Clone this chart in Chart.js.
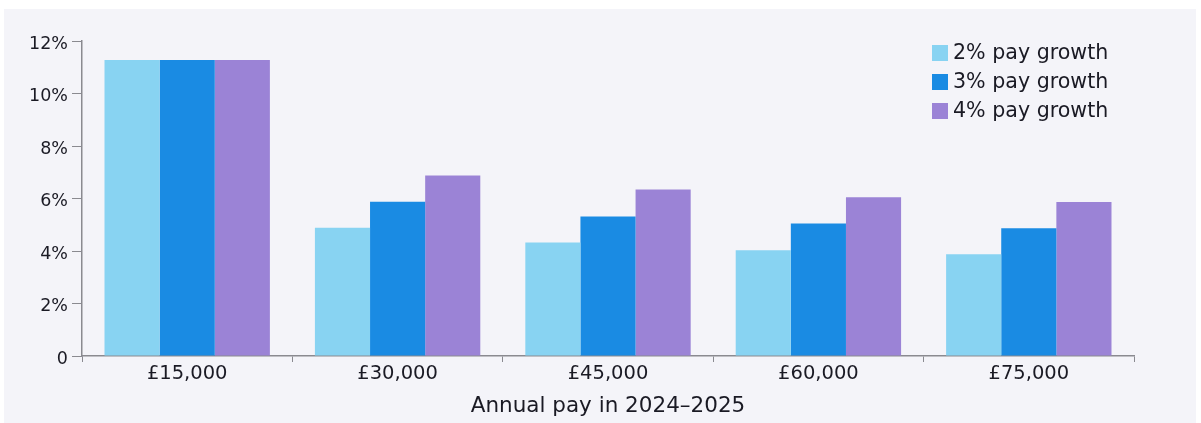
<!DOCTYPE html>
<html>
<head>
<meta charset="utf-8">
<script src="https://cdn.jsdelivr.net/npm/chart.js@4"></script>
<style>
  html, body { margin: 0; padding: 0; background: #ffffff; }
  #wrap { position: absolute; left: 4px; top: 9px; width: 1192px; height: 414px; background: #f4f4f9; }
</style>
</head>
<body>
<div id="wrap"><canvas id="payChart"></canvas></div>
<script>
const salaries = ["£15,000", "£30,000", "£45,000", "£60,000", "£75,000"];
const growth2 = [11.28, 4.89, 4.32, 4.03, 3.88];
const growth3 = [11.28, 5.88, 5.31, 5.05, 4.87];
const growth4 = [11.28, 6.88, 6.34, 6.05, 5.87];
const seriesNames = ["2% pay growth", "3% pay growth", "4% pay growth"];
const yTicks = [0, 2, 4, 6, 8, 10, 12];

const FONT = "'DejaVu Sans', sans-serif";
const INK = '#1a1a24';
const AXIS = '#8a8a90';

// vertical legend in the top right corner of the plot
const cornerLegend = {
    id: 'cornerLegend',
    afterDraw(chart) {
        const ctx = chart.ctx;
        ctx.save();
        ctx.font = '20.6px ' + FONT;
        ctx.textBaseline = 'middle';
        chart.data.datasets.forEach((ds, i) => {
            const y = 44 + i * 29;
            ctx.fillStyle = ds.backgroundColor;
            ctx.fillRect(928, y - 8, 16, 16);
            ctx.fillStyle = INK;
            ctx.fillText(ds.label, 949, y + 1);
        });
        ctx.restore();
    }
};

new Chart(document.getElementById('payChart'), {
    type: 'bar',
    data: {
        labels: salaries,
        datasets: [
            { label: seriesNames[0], data: growth2, backgroundColor: '#88d3f2' },
            { label: seriesNames[1], data: growth3, backgroundColor: '#1a8be3' },
            { label: seriesNames[2], data: growth4, backgroundColor: '#9b83d6' }
        ]
    },
    options: {
        responsive: true,
        maintainAspectRatio: false,
        animation: false,
        layout: { padding: { left: 0, top: 32, right: 62, bottom: 0 } },
        datasets: { bar: { categoryPercentage: 0.786, barPercentage: 1 } },
        plugins: {
            legend: { display: false },
            tooltip: { enabled: false }
        },
        scales: {
            x: {
                grid: { display: true, drawOnChartArea: false, drawTicks: true, tickLength: 6, color: AXIS, offset: true },
                border: { display: true, color: AXIS, width: 1.5 },
                ticks: { color: INK, font: { family: FONT, size: 19.5 }, padding: 0 },
                title: { display: true, text: 'Annual pay in 2024–2025', color: INK, font: { family: FONT, size: 21.5 }, padding: { top: 4, bottom: 4 } },
                afterFit(scale) { scale.height = 67; }
            },
            y: {
                min: 0,
                max: 12,
                afterBuildTicks(scale) { scale.ticks = yTicks.map(v => ({ value: v })); },
                grid: { display: true, drawOnChartArea: false, drawTicks: true, tickLength: 10, color: AXIS },
                border: { display: true, color: AXIS, width: 1.5 },
                ticks: {
                    color: INK,
                    font: { family: FONT, size: 17.5 },
                    padding: 4,
                    labelOffset: 3,
                    callback: v => v === 0 ? '0' : v + '%'
                },
                afterFit(scale) { scale.width = 78; }
            }
        }
    },
    plugins: [cornerLegend]
});
</script>
</body>
</html>
